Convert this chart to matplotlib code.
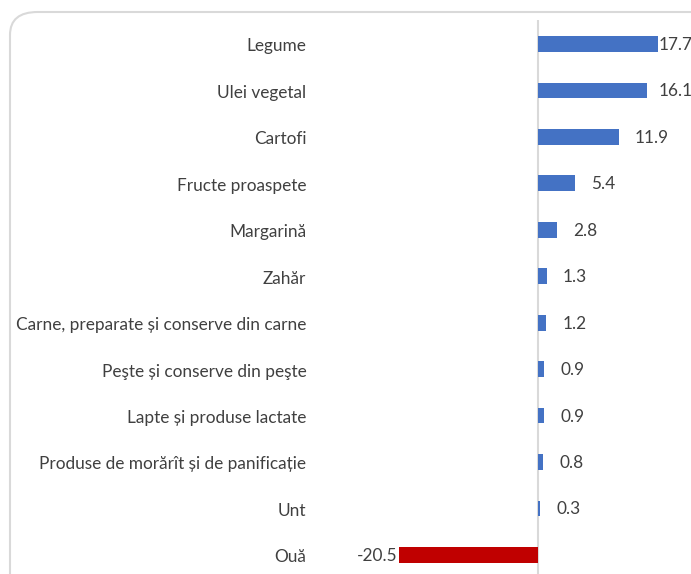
import matplotlib.pyplot as plt
from matplotlib.patches import FancyBboxPatch

# ---------- date ----------
categorii = [
    'Legume', 'Ulei vegetal', 'Cartofi', 'Fructe proaspete', 'Margarină',
    'Zahăr', 'Carne, preparate și conserve din carne',
    'Peşte și conserve din peşte', 'Lapte și produse lactate',
    'Produse de morărît și de panificație', 'Unt', 'Ouă',
]
valori = [17.7, 16.1, 11.9, 5.4, 2.8, 1.3, 1.2, 0.9, 0.9, 0.8, 0.3, -20.5]

ALBASTRU = '#4472C4'
ROSU = '#C00000'
TEXT = '#404040'
FS = 12.4

plt.rcParams['font.family'] = ['Lato', 'DejaVu Sans']

W, H = 691, 574
fig = plt.figure(figsize=(W / 100, H / 100), dpi=100)

# chenar rotunjit (taiat la dreapta si jos)
fig.patches.append(FancyBboxPatch(
    (10 / W, -40 / H), 720 / W, (H - 12 + 40) / H,
    boxstyle='round,pad=0,rounding_size=0.04',
    transform=fig.transFigure, facecolor='white', edgecolor='#D9D9D9',
    linewidth=1.5, zorder=-10))

ax_left, ax_top = 312, 20
ax = fig.add_axes([ax_left / W, 0, 1 - ax_left / W, 1 - ax_top / H])
ax.patch.set_alpha(0)

px = 6.78  # pixeli pe unitate
ax.set_xlim((ax_left - 538) / px, (W - 538) / px)
n = len(categorii)
y0, dy = 44, 46.45
ax.set_ylim((H - y0) / dy, (ax_top - y0) / dy)

pos = list(range(n))
culori = [ROSU if v < 0 else ALBASTRU for v in valori]
ax.barh(pos, valori, height=0.34, color=culori, zorder=2)
ax.axvline(0, color='#D9D9D9', linewidth=1.5, zorder=1)

for i, v in zip(pos, valori):
    if v < 0:
        ax.text(v - 0.25, i + 0.02, f'{v:.1f}', ha='right', va='center',
                fontsize=FS, color=TEXT)
    else:
        ax.text(min(v + 2.4, 17.85), i + 0.02, f'{v:.1f}', ha='left',
                va='center', fontsize=FS, color=TEXT)

ax.set_yticks([p + 0.02 for p in pos])
ax.set_yticklabels(categorii, fontsize=FS, color=TEXT)
ax.tick_params(axis='y', length=0, pad=4)
ax.set_xticks([])
for s in ax.spines.values():
    s.set_visible(False)

fig.savefig('out.png', dpi=100)
